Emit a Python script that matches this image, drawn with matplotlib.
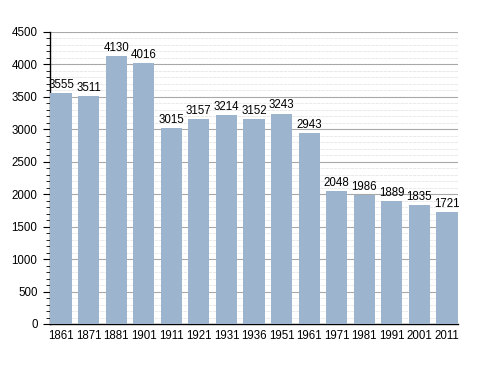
import numpy as np
import matplotlib
matplotlib.use("Agg")
import matplotlib.pyplot as plt
from matplotlib.ticker import MultipleLocator

years = ["1861", "1871", "1881", "1901", "1911", "1921", "1931", "1936",
         "1951", "1961", "1971", "1981", "1991", "2001", "2011"]
population = [3555, 3511, 4130, 4016, 3015, 3157, 3214, 3152,
              3243, 2943, 2048, 1986, 1889, 1835, 1721]

plt.rcParams['font.family'] = ['Liberation Sans', 'DejaVu Sans']

fig = plt.figure(figsize=(4.88, 3.73), dpi=100)
ax = fig.add_axes([50/488, 49/373, 408/488, 292/373])

x = np.arange(len(years))
ax.bar(x, population, width=0.764, color="#9db4cf", zorder=3)
for xi, v in zip(x, population):
    ax.text(xi, v + 35, str(v), ha="center", va="bottom", fontsize=8.3, zorder=4)

ax.set_xlim(-0.4, len(years) - 0.6)
ax.set_ylim(0, 4500)
ax.set_xticks(x)
ax.set_xticklabels(years, fontsize=8.3)
ax.tick_params(axis="x", length=0, pad=4)
ax.yaxis.set_major_locator(MultipleLocator(500))
ax.yaxis.set_minor_locator(MultipleLocator(100))
ax.tick_params(axis="y", which="major", length=5, labelsize=8.3, pad=4)
ax.tick_params(axis="y", which="minor", length=3)
ax.grid(axis="y", which="major", color="#a8a8a8", linewidth=0.8, zorder=1)
ax.grid(axis="y", which="minor", color="#e6e6e6", linewidth=0.6, linestyle=(0, (4, 1)), zorder=1)
for s in ["top", "right"]:
    ax.spines[s].set_visible(False)
ax.spines["left"].set_linewidth(1.0)
ax.spines["bottom"].set_linewidth(1.0)

fig.savefig("out.png", dpi=100)
